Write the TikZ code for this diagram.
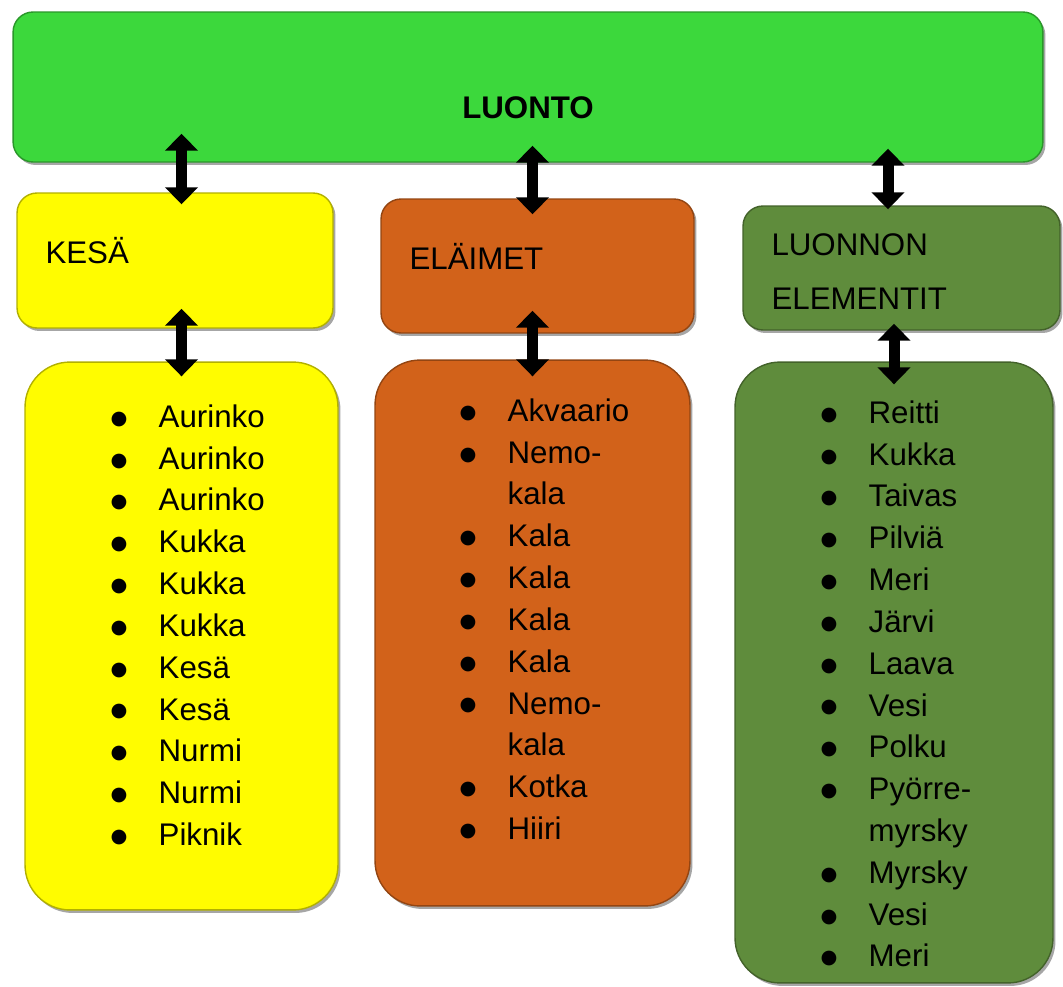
\documentclass[tikz,border=0pt]{standalone}
\usepackage{fontspec}
\setmainfont{Liberation Sans}
\newfontfamily\symfont{DejaVu Sans}
\usetikzlibrary{arrows.meta,shadows}

\definecolor{luontogreen}{RGB}{60,216,60}
\definecolor{kesayellow}{RGB}{255,252,0}
\definecolor{elainorange}{RGB}{210,98,26}
\definecolor{elemgreen}{RGB}{95,140,60}

% one bullet line, and the wrapped rest of a bullet line
\newcommand{\li}[1]{\makebox[0.94cm][l]{\kern-0.02cm\raisebox{0.1em}{\symfont\fontsize{11pt}{11pt}\selectfont ●}}#1}
\newcommand{\cont}[1]{\hspace*{0.94cm}#1}

\begin{document}
\begin{tikzpicture}[
    x=0.02cm, y=-0.02cm,
    box/.style = {rectangle, rounded corners=0.4cm, fill=#1, draw=#1!70!black,
line width=0.8pt, drop shadow={shadow xshift=0.05cm, shadow yshift=-0.06cm,
fill=black, opacity=0.35}},
    head/.style = {box=#1, align=left, inner xsep=0.57cm, inner ysep=0pt,
font=\fontsize{17.8pt}{30.7pt}\selectfont},
    listbox/.style = {box=#1, rounded corners=0.9cm},
    items/.style = {anchor=base west, inner sep=0pt, text width=5cm, align=left,
font=\fontsize{17.8pt}{23.8pt}\selectfont},
    updown/.style = {line width=0.22cm,
{Triangle[width=0.64cm,length=0.34cm]}-{Triangle[width=0.64cm,length=0.34cm]}}
]
  \useasboundingbox (0,0) rectangle (1063,987);

  % boxes
  \node (luonto) [box=luontogreen, minimum width=20.6cm, minimum height=3cm,
    text height=1.5cm, text depth=0.24cm,
    font=\fontsize{17.8pt}{21pt}\selectfont\bfseries] at (528,87) {LUONTO};

  \node (kesa) [head=kesayellow, minimum height=2.7cm, text width=5.18cm,
    text height=0.45cm, text depth=0.33cm] at (175,260.5) {KESÄ};
  \node (elaimet) [head=elainorange, minimum height=2.68cm, text width=5.12cm,
    text height=0.45cm, text depth=0.33cm] at (537.5,266) {ELÄIMET};
  \node (elem) [head=elemgreen, minimum height=2.48cm, text width=5.2cm,
    text height=0.58cm] at (901.5,268) {LUONNON\\ELEMENTIT};

  \node (kesalist) [listbox=kesayellow, minimum width=6.26cm, minimum height=10.96cm]
    at (181.5,636) {};
  \node (elainlist) [listbox=elainorange, minimum width=6.3cm, minimum height=10.92cm]
    at (532.5,633) {};
  \node (elemlist) [listbox=elemgreen, minimum width=6.36cm, minimum height=12.42cm]
    at (894,672.5) {};

  % lists
  \node (kesaitems) [items] at ([xshift=1.74cm, yshift=-1.32cm]kesalist.north west)
    {\li{Aurinko}\\ \li{Aurinko}\\ \li{Aurinko}\\ \li{Kukka}\\ \li{Kukka}\\
     \li{Kukka}\\ \li{Kesä}\\ \li{Kesä}\\ \li{Nurmi}\\ \li{Nurmi}\\ \li{Piknik}};
  \node (elainitems) [items] at ([xshift=1.72cm, yshift=-1.24cm]elainlist.north west)
    {\li{Akvaario}\\ \li{Nemo-}\\ \cont{kala}\\ \li{Kala}\\ \li{Kala}\\ \li{Kala}\\
     \li{Kala}\\ \li{Nemo-}\\ \cont{kala}\\ \li{Kotka}\\ \li{Hiiri}};
  \node (elemitems) [items] at ([xshift=1.74cm, yshift=-1.24cm]elemlist.north west)
    {\li{Reitti}\\ \li{Kukka}\\ \li{Taivas}\\ \li{Pilviä}\\ \li{Meri}\\ \li{Järvi}\\
     \li{Laava}\\ \li{Vesi}\\ \li{Polku}\\ \li{Pyörre-}\\ \cont{myrsky}\\
     \li{Myrsky}\\ \li{Vesi}\\ \li{Meri}};

  % arrows
  \draw[updown] ([yshift=0.58cm]kesalist.north |- luonto.south)
    -- ([yshift=-0.24cm]kesalist.north |- kesa.north);
  \draw[updown] ([yshift=0.34cm]elainlist.north |- luonto.south)
    -- ([yshift=-0.32cm]elainlist.north |- elaimet.north);
  \draw[updown] ([xshift=-0.12cm, yshift=0.28cm]elemlist.north |- luonto.south)
    -- ([xshift=-0.12cm, yshift=-0.08cm]elemlist.north |- elem.north);

  \draw[updown] ([yshift=0.4cm]kesalist.north |- kesa.south)
    -- ([yshift=-0.3cm]kesalist.north);
  \draw[updown] ([yshift=0.46cm]elainlist.north |- elaimet.south)
    -- ([yshift=-0.34cm]elainlist.north);
  \draw[updown] ([yshift=0.14cm]elemlist.north |- elem.south)
    -- ([yshift=-0.46cm]elemlist.north);

\end{tikzpicture}
\end{document}
